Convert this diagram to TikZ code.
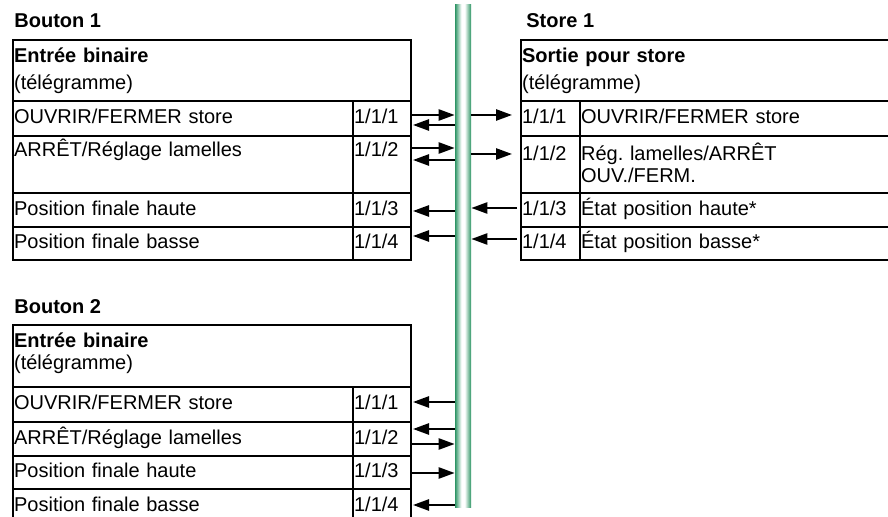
\documentclass[tikz,border=0pt]{standalone}
\usepackage{fontspec}
\setmainfont{Liberation Sans}
\usetikzlibrary{arrows.meta}
\definecolor{busgruen}{HTML}{2E9565}
\pgfdeclarehorizontalshading{busverlauf}{100bp}{color(0bp)=(busgruen); color(25bp)=(busgruen);
  color(34bp)=(busgruen!55); color(45bp)=(white); color(55bp)=(white); color(66bp)=(busgruen!55);
  color(75bp)=(busgruen); color(100bp)=(busgruen)}
\tikzset{
  zelle/.style={draw,line width=0.9pt,anchor=north west,inner xsep=0.6pt,inner ysep=0pt,align=left},
  einz/.style={zelle,text height=7.4pt,text depth=2.1pt},
  kopf/.style={zelle,minimum width=199pt,text width=197.8pt,minimum height=30.5pt},
  skopf/.style={zelle,minimum width=186pt,text width=184.8pt,minimum height=30.5pt},
  txtz/.style={einz,minimum width=170pt,text width=168.8pt},
  idz/.style={einz,minimum width=29pt,text width=27.8pt},
  sidz/.style={einz,minimum width=29.5pt,text width=28.3pt},
  stxtz/.style={einz,minimum width=156.5pt,text width=155.3pt},
  titel/.style={anchor=base west,inner sep=0pt,font=\bfseries},
  sig/.style={-{Triangle[length=8pt,width=5.6pt]},line width=1pt},
  bus/.style={minimum width=8pt,minimum height=251.5pt,inner sep=0pt,shading=busverlauf},
}
\begin{document}
\begin{tikzpicture}[x=0.5pt,y=-0.5pt]
  \useasboundingbox (0,0) rectangle (888,517);
  % bus line
  \node[bus] (bus) at (463,256.5) {};
  % Bouton 1
  \node[titel] (b1) at (14,28) {Bouton 1};
  \node[kopf] (b1k) at (12,39) {\textbf{Entrée binaire}\\[1.5pt](télégramme)};
  \node[txtz,minimum height=17.5pt] (b1t1) at (12,100) {OUVRIR/FERMER store};
  \node[idz,minimum height=17.5pt] (b1i1) at (352,100) {1/1/1};
  \node[txtz,minimum height=28.5pt,text depth=15pt] (b1t2) at (12,135) {ARRÊT/Réglage lamelles};
  \node[idz,minimum height=28.5pt,text depth=15pt] (b1i2) at (352,135) {1/1/2};
  \node[txtz,minimum height=17pt] (b1t3) at (12,192) {Position finale haute};
  \node[idz,minimum height=17pt] (b1i3) at (352,192) {1/1/3};
  \node[txtz,minimum height=16.5pt] (b1t4) at (12,226) {Position finale basse};
  \node[idz,minimum height=16.5pt] (b1i4) at (352,226) {1/1/4};
  % Store 1
  \node[titel] (s1) at (526,28) {Store 1};
  \node[skopf] (s1k) at (520,39) {\textbf{Sortie pour store}\\[1.5pt](télégramme)};
  \node[sidz,minimum height=17.5pt] (s1i1) at (520,100) {1/1/1};
  \node[stxtz,minimum height=17.5pt] (s1t1) at (579,100) {OUVRIR/FERMER store};
  \node[sidz,minimum height=28.5pt,text depth=11pt] (s1i2) at (520,135) {1/1/2};
  \node[stxtz,minimum height=28.5pt,text depth=11pt] (s1t2) at (579,135) {Rég.\ lamelles/ARRÊT\\[-1pt]OUV./FERM.};
  \node[sidz,minimum height=17pt] (s1i3) at (520,192) {1/1/3};
  \node[stxtz,minimum height=17pt] (s1t3) at (579,192) {État position haute*};
  \node[sidz,minimum height=16.5pt] (s1i4) at (520,226) {1/1/4};
  \node[stxtz,minimum height=16.5pt] (s1t4) at (579,226) {État position basse*};
  % Bouton 2
  \node[titel] (b2) at (14,314) {Bouton 2};
  \node[kopf,minimum height=31pt,text depth=16pt] (b2k) at (12,324) {\textbf{Entrée binaire}\\[-1pt](télégramme)};
  \node[txtz,minimum height=17.5pt] (b2t1) at (12,386) {OUVRIR/FERMER store};
  \node[idz,minimum height=17.5pt] (b2i1) at (352,386) {1/1/1};
  \node[txtz,minimum height=17pt] (b2t2) at (12,421) {ARRÊT/Réglage lamelles};
  \node[idz,minimum height=17pt] (b2i2) at (352,421) {1/1/2};
  \node[txtz,minimum height=16.5pt] (b2t3) at (12,455) {Position finale haute};
  \node[idz,minimum height=16.5pt] (b2i3) at (352,455) {1/1/3};
  \node[txtz,minimum height=17pt] (b2t4) at (12,488) {Position finale basse};
  \node[idz,minimum height=17pt] (b2i4) at (352,488) {1/1/4};
  % signal levels
  \foreach \n/\y in {a/115,b/125,c/148,d/160,e/211,f/236,g/154,h/208,i/239,
                     k/402,l/429,m/444,n/473,o/505}
    \coordinate (y\n) at (0,\y);
  % Bouton 1 <-> bus
  \draw[sig] (b1i1.east |- ya) -- (bus.west |- ya);
  \draw[sig,shorten >=0.6pt] (bus.west |- yb) -- (b1i1.east |- yb);
  \draw[sig] (b1i2.east |- yc) -- (bus.west |- yc);
  \draw[sig,shorten >=0.6pt] (bus.west |- yd) -- (b1i2.east |- yd);
  \draw[sig,shorten >=0.6pt] (bus.west |- ye) -- (b1i3.east |- ye);
  \draw[sig,shorten >=0.6pt] (bus.west |- yf) -- (b1i4.east |- yf);
  % bus <-> Store 1
  \draw[sig,shorten >=4pt] (bus.east |- ya) -- (s1i1.west |- ya);
  \draw[sig,shorten >=4pt] (bus.east |- yg) -- (s1i2.west |- yg);
  \draw[sig,shorten <=1.5pt] (s1i3.west |- yh) -- (bus.east |- yh);
  \draw[sig,shorten <=1.5pt] (s1i4.west |- yi) -- (bus.east |- yi);
  % Bouton 2 <-> bus
  \draw[sig,shorten >=0.6pt] (bus.west |- yk) -- (b2i1.east |- yk);
  \draw[sig,shorten >=0.6pt] (bus.west |- yl) -- (b2i2.east |- yl);
  \draw[sig] (b2i2.east |- ym) -- (bus.west |- ym);
  \draw[sig] (b2i3.east |- yn) -- (bus.west |- yn);
  \draw[sig,shorten >=0.6pt] (bus.west |- yo) -- (b2i4.east |- yo);
\end{tikzpicture}
\end{document}
